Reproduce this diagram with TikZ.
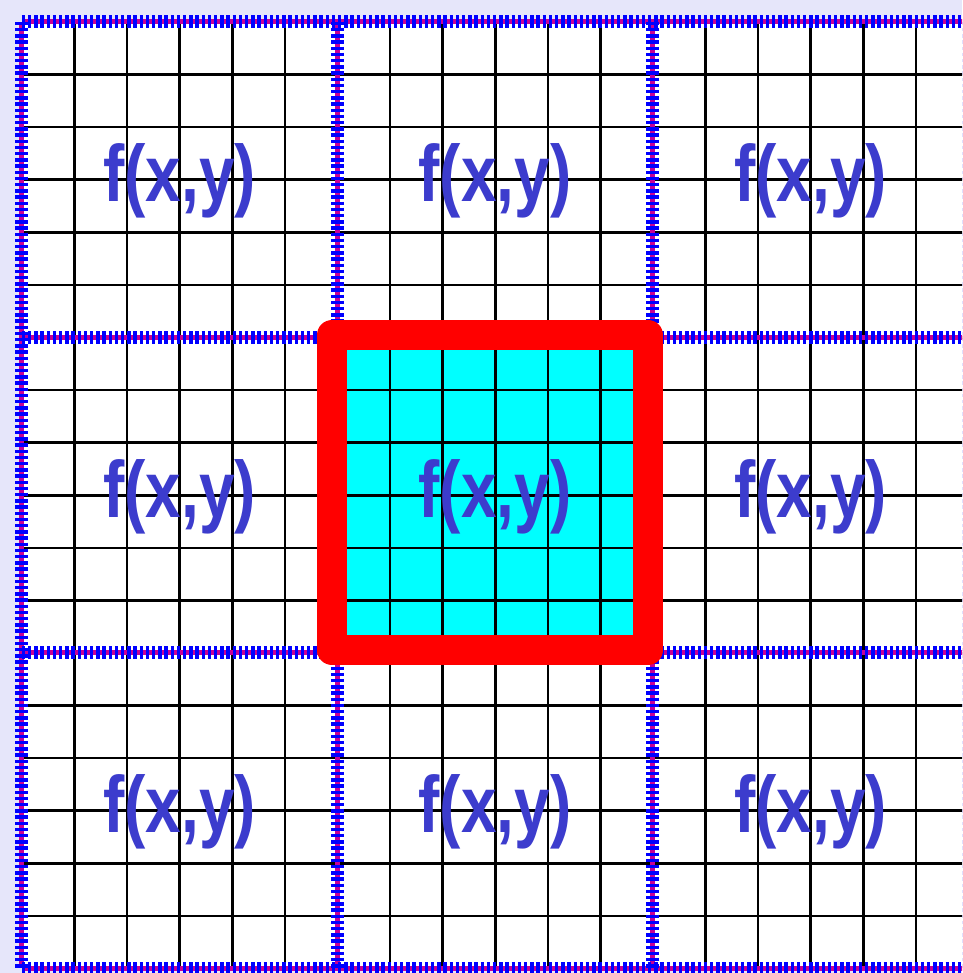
\documentclass[tikz,border=0pt]{standalone}
\usepackage{fontspec}
\newfontfamily\labelfont{Liberation Sans}
\usetikzlibrary{positioning}

\definecolor{bglavender}{RGB}{230,230,250}
\definecolor{labelblue}{RGB}{60,60,205}
\definecolor{edgemagenta}{RGB}{200,0,150}
\definecolor{hotcyan}{RGB}{0,255,255}

\newcommand\fxytext{\scalebox{0.8}[1]{f(x,y)}}

\begin{document}
\begin{tikzpicture}[
    x=1pt, y=-1pt,
    tile/.style = {rectangle, fill=white, minimum size=315.5pt, inner sep=0pt, outer sep=0pt},
    hottile/.style = {tile, fill=hotcyan},
    gridline/.style = {draw=black, line width=2.6pt},
    fxy/.style = {inner sep=0pt, text=labelblue, font=\labelfont\bfseries\fontsize{80}{90}\selectfont},
    edgeline/.style = {draw=edgemagenta, line width=5pt, shift={(1.5,1.5)}},
    edgedash/.style = {draw=blue, line width=13pt, dash pattern=on 3.4pt off 2.8pt, shift={(-4,-4)}},
    redframe/.style = {rectangle, draw=red, line width=30pt, line join=round, minimum width=316pt, minimum height=315pt, inner sep=0pt}
]

% Page and background
\useasboundingbox (0,0) rectangle (962,973);
\clip (0,0) rectangle (962,973);
\fill[bglavender] (0,0) rectangle (962,973);

% The nine tiles
\node[tile] (t11) at (179.5,179.5) {};
\node[tile] (t12) at (495,179.5) {};
\node[tile] (t13) at (810.5,179.5) {};
\node[tile] (t21) at (179.5,495) {};
\node[hottile] (t22) at (495,495) {};
\node[tile] (t23) at (810.5,495) {};
\node[tile] (t31) at (179.5,810.5) {};
\node[tile] (t32) at (495,810.5) {};
\node[tile] (t33) at (810.5,810.5) {};

% Fine grid over all tiles
\foreach \k in {1,...,17} {
  \draw[gridline] ({22+52.58*\k},22) -- ({22+52.58*\k},969);
  \draw[gridline] (22,{22+52.58*\k}) -- (969,{22+52.58*\k});
}

% Labels
\foreach \r in {1,2,3}
  \foreach \c in {1,2,3}
    \node[fxy] (l\r\c) at ([yshift=-1.5pt]t\r\c) {\fxytext};

% Tile edges: magenta line under blue dashes
\foreach \a/\b in {t11.north west/t31.south west, t11.north east/t31.south east,
                   t12.north east/t32.south east, t13.north east/t33.south east,
                   t11.north west/t13.north east, t11.south west/t13.south east,
                   t21.south west/t23.south east, t31.south west/t33.south east}
  \draw[edgeline] (\a) -- (\b);
\foreach \a/\b in {t11.north west/t31.south west, t11.north east/t31.south east,
                   t12.north east/t32.south east, t13.north east/t33.south east,
                   t11.north west/t13.north east, t11.south west/t13.south east,
                   t21.south west/t23.south east, t31.south west/t33.south east}
  \draw[edgedash] (\a) -- (\b);

% Highlighted centre tile
\node[redframe] (ring) at ([xshift=-5pt,yshift=2.5pt]t22.center) {};

\end{tikzpicture}
\end{document}
